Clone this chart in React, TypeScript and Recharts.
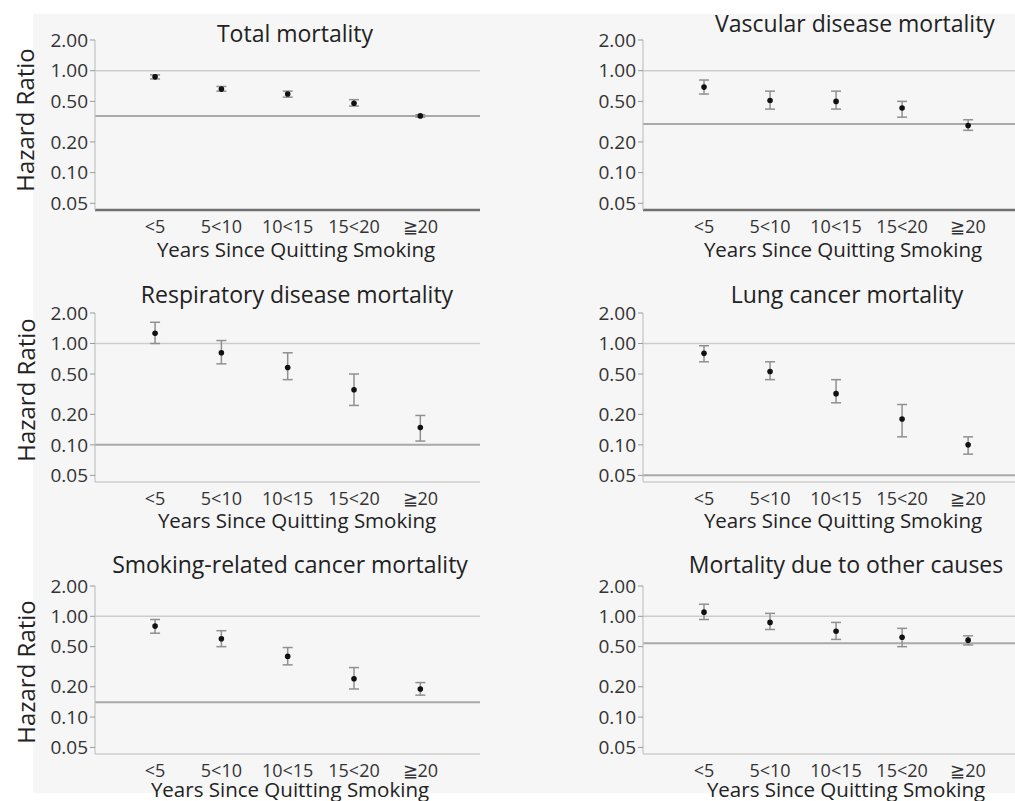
import React from 'react';
import { ScatterChart, Scatter, XAxis, YAxis, ErrorBar, ReferenceLine } from 'recharts';

const categories = ['<5', '5<10', '10<15', '15<20', '≧20'];
const yTicks = [0.05, 0.1, 0.2, 0.5, 1, 2];

const totalHR = [0.87, 0.66, 0.59, 0.48, 0.36];
const totalLo = [0.83, 0.63, 0.55, 0.45, 0.35];
const totalHi = [0.91, 0.70, 0.63, 0.52, 0.37];

const vascularHR = [0.69, 0.51, 0.50, 0.43, 0.29];
const vascularLo = [0.59, 0.42, 0.42, 0.35, 0.26];
const vascularHi = [0.81, 0.63, 0.63, 0.50, 0.33];

const respHR = [1.26, 0.81, 0.58, 0.35, 0.148];
const respLo = [1.0, 0.63, 0.44, 0.245, 0.109];
const respHi = [1.62, 1.07, 0.81, 0.5, 0.195];

const lungHR = [0.8, 0.53, 0.32, 0.18, 0.1];
const lungLo = [0.66, 0.44, 0.26, 0.12, 0.081];
const lungHi = [0.95, 0.66, 0.44, 0.25, 0.12];

const smokCancerHR = [0.8, 0.6, 0.4, 0.24, 0.19];
const smokCancerLo = [0.68, 0.5, 0.33, 0.19, 0.165];
const smokCancerHi = [0.93, 0.72, 0.49, 0.31, 0.22];

const otherHR = [1.1, 0.87, 0.71, 0.62, 0.58];
const otherLo = [0.93, 0.74, 0.59, 0.5, 0.52];
const otherHi = [1.32, 1.07, 0.87, 0.76, 0.64];

const panelTitles = [
  'Total mortality',
  'Vascular disease mortality',
  'Respiratory disease mortality',
  'Lung cancer mortality',
  'Smoking-related cancer mortality',
  'Mortality due to other causes',
];
const referenceValues = [0.36, 0.3, 0.1, 0.05, 0.14, 0.54];

const xTitle = 'Years Since Quitting Smoking';
const yTitle = 'Hazard Ratio';

const build = (hr: number[], lo: number[], hi: number[]) =>
  hr.map((v, i) => ({ x: i + 1, hr: v, err: [v - lo[i], hi[i] - v] }));

const panelData = [
  build(totalHR, totalLo, totalHi),
  build(vascularHR, vascularLo, vascularHi),
  build(respHR, respLo, respHi),
  build(lungHR, lungLo, lungHi),
  build(smokCancerHR, smokCancerLo, smokCancerHi),
  build(otherHR, otherLo, otherHi),
];

const layouts = [
  { left: 0, top: 0, width: 480, height: 250, mTop: 40, yW: 95, xDom: [0.094, 5.9], darkAxis: true, title: [295, 42], xl: [296, 257] },
  { left: 500, top: 0, width: 515, height: 250, mTop: 40, yW: 143, xDom: [0.076, 5.71], darkAxis: true, title: [855, 32], xl: [843, 257] },
  { left: 0, top: 270, width: 480, height: 252, mTop: 43, yW: 95, xDom: [0.094, 5.9], darkAxis: false, title: [297, 303], xl: [297, 528] },
  { left: 500, top: 270, width: 515, height: 252, mTop: 43, yW: 143, xDom: [0.076, 5.71], darkAxis: false, title: [847, 303], xl: [843, 528] },
  { left: 0, top: 540, width: 480, height: 254, mTop: 46, yW: 95, xDom: [0.094, 5.9], darkAxis: false, title: [290, 573], xl: [290, 797] },
  { left: 500, top: 540, width: 515, height: 254, mTop: 46, yW: 143, xDom: [0.076, 5.71], darkAxis: false, title: [846, 573], xl: [846, 797] },
];

const yLabelPos = [[24, 120], [25, 390], [25, 672]];

const Dot = (props: any) => {
  const { cx, cy } = props;
  if (cx == null || cy == null) return null;
  return <circle cx={cx} cy={cy} r={2.8} fill="#111" />;
};

const Panel = ({ idx }: { idx: number }) => {
  const L = layouts[idx];
  return (
    <div style={{ position: 'absolute', left: L.left, top: L.top }}>
      <ScatterChart
        width={L.width}
        height={L.height}
        margin={{ top: L.mTop, right: 0, bottom: 0, left: 0 }}
      >
        <XAxis
          type="number"
          dataKey="x"
          domain={L.xDom}
          allowDataOverflow
          ticks={[1, 2, 3, 4, 5]}
          tickFormatter={(v: number) => categories[v - 1]}
          tickLine={false}
          tickSize={8}
          tickMargin={2}
          height={40}
          axisLine={{ stroke: L.darkAxis ? '#707070' : '#cfcfcf', strokeWidth: L.darkAxis ? 2.5 : 1.5 }}
          tick={{ fill: '#333', fontSize: 18 }}
          interval={0}
        />
        <YAxis
          type="number"
          dataKey="hr"
          scale="log"
          domain={[0.043, 2]}
          allowDataOverflow
          ticks={yTicks}
          tickFormatter={(v: number) => v.toFixed(2)}
          width={L.yW}
          tickSize={5}
          tickMargin={2}
          interval={0}
          axisLine={{ stroke: '#c4c4c4', strokeWidth: 1.2 }}
          tickLine={{ stroke: '#999' }}
          tick={{ fill: '#333', fontSize: 19 }}
        />
        <ReferenceLine y={1} stroke="#cdcdcd" strokeWidth={1.5} />
        <ReferenceLine y={referenceValues[idx]} stroke="#a9a9a9" strokeWidth={2} />
        <Scatter data={panelData[idx]} shape={<Dot />} isAnimationActive={false}>
          <ErrorBar dataKey="err" direction="y" width={5} stroke="#909090" strokeWidth={1.5} isAnimationActive={false} />
        </Scatter>
      </ScatterChart>
    </div>
  );
};

export default function App() {
  return (
    <div
      style={{
        position: 'absolute',
        left: 0,
        top: 0,
        width: 1015,
        height: 801,
        background: '#fff',
        overflow: 'hidden',
        fontFamily: '"Open Sans", "Noto Sans", sans-serif',
      }}
    >
      <div style={{ position: 'absolute', left: 33, top: 14, width: 982, height: 779, background: '#f6f6f6' }} />
      {layouts.map((_, i) => (
        <Panel key={i} idx={i} />
      ))}
      <svg
        width={1015}
        height={801}
        style={{ position: 'absolute', left: 0, top: 0, pointerEvents: 'none' }}
      >
        {layouts.map((L, i) => (
          <g key={i}>
            <text x={L.title[0]} y={L.title[1]} textAnchor="middle" fontSize={23} fill="#222">
              {panelTitles[i]}
            </text>
            <text x={L.xl[0]} y={L.xl[1]} textAnchor="middle" fontSize={20.5} fill="#222">
              {xTitle}
            </text>
          </g>
        ))}
        {yLabelPos.map((p, i) => (
          <text
            key={i}
            x={p[0]}
            y={p[1]}
            textAnchor="middle"
            dominantBaseline="central"
            fontSize={24}
            fill="#222"
            transform={`rotate(-90 ${p[0]} ${p[1]})`}
          >
            {yTitle}
          </text>
        ))}
      </svg>
    </div>
  );
}
